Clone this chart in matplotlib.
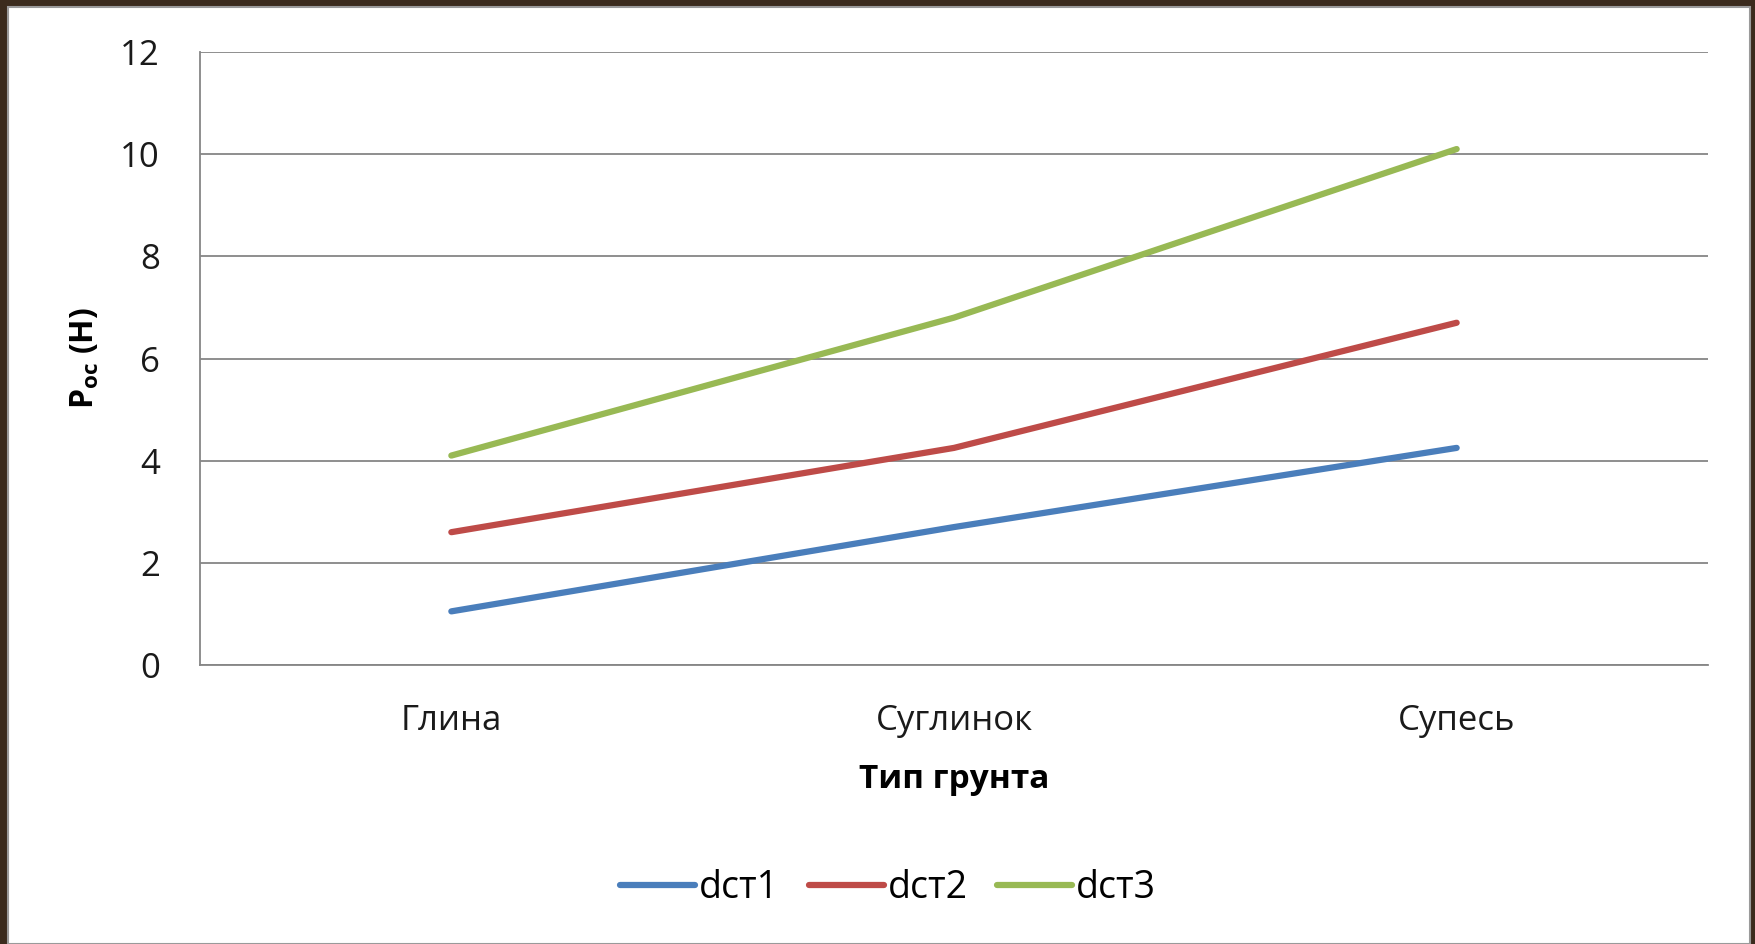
import matplotlib.pyplot as plt
from matplotlib.patches import Rectangle

soil_types = ["Глина", "Суглинок", "Супесь"]
dst1 = [1.05, 2.7, 4.25]
dst2 = [2.6, 4.25, 6.7]
dst3 = [4.1, 6.8, 10.1]
series_names = ["dст1", "dст2", "dст3"]
y_ticks = [0, 2, 4, 6, 8, 10, 12]

colors = ["#4A7EBB", "#BE4B48", "#98B954"]


def main():
    plt.rcParams["font.family"] = ["Open Sans", "DejaVu Sans"]
    plt.rcParams["mathtext.default"] = "regular"

    fig = plt.figure(figsize=(17.56, 9.44), dpi=100)
    fig.patch.set_facecolor("#3b2b1d")

    # white slide panel behind the chart
    panel = Rectangle((8 / 1756, 0), 1742 / 1756, 1 - 7 / 944,
                      transform=fig.transFigure, facecolor="white",
                      edgecolor="#9a9a9a", linewidth=1.5, zorder=-10)
    fig.patches.append(panel)

    ax = fig.add_axes([200 / 1756, 1 - 665 / 944, 1508 / 1756, 613 / 944])
    ax.patch.set_alpha(0)

    x = range(len(soil_types))
    for vals, name, c in zip([dst1, dst2, dst3], series_names, colors):
        ax.plot(x, vals, color=c, lw=4.5, solid_capstyle="round",
                solid_joinstyle="round", label=name, zorder=3)

    ax.set_xlim(-0.5, len(soil_types) - 0.5)
    ax.set_ylim(0, 12)
    ax.set_yticks(y_ticks)
    ax.set_xticks(list(x))
    ax.set_xticklabels(soil_types)
    ax.tick_params(axis="both", length=0, labelsize=25, colors="#1a1a1a")
    ax.tick_params(axis="y", pad=29)
    ax.tick_params(axis="x", pad=28)

    ax.grid(axis="y", color="#868686", lw=1.3)
    for s in ["top", "right"]:
        ax.spines[s].set_visible(False)
    for s in ["left", "bottom"]:
        ax.spines[s].set_color("#868686")
        ax.spines[s].set_linewidth(1.3)

    ax.set_xlabel("Тип грунта", fontsize=24, fontweight="bold", labelpad=18)
    fig.text(85 / 1756, 1 - 358 / 944, "P$_{oc}$ (H)", rotation=90,
             fontsize=23, fontweight="bold", ha="center", va="center")

    fig.legend(loc="center", bbox_to_anchor=(888 / 1756, 1 - 888 / 944),
               ncol=3, frameon=False, fontsize=27, handlelength=2.0,
               handletextpad=0.1, columnspacing=0.8)

    fig.savefig("out.png", dpi=100, facecolor=fig.get_facecolor())


if __name__ == "__main__":
    main()
